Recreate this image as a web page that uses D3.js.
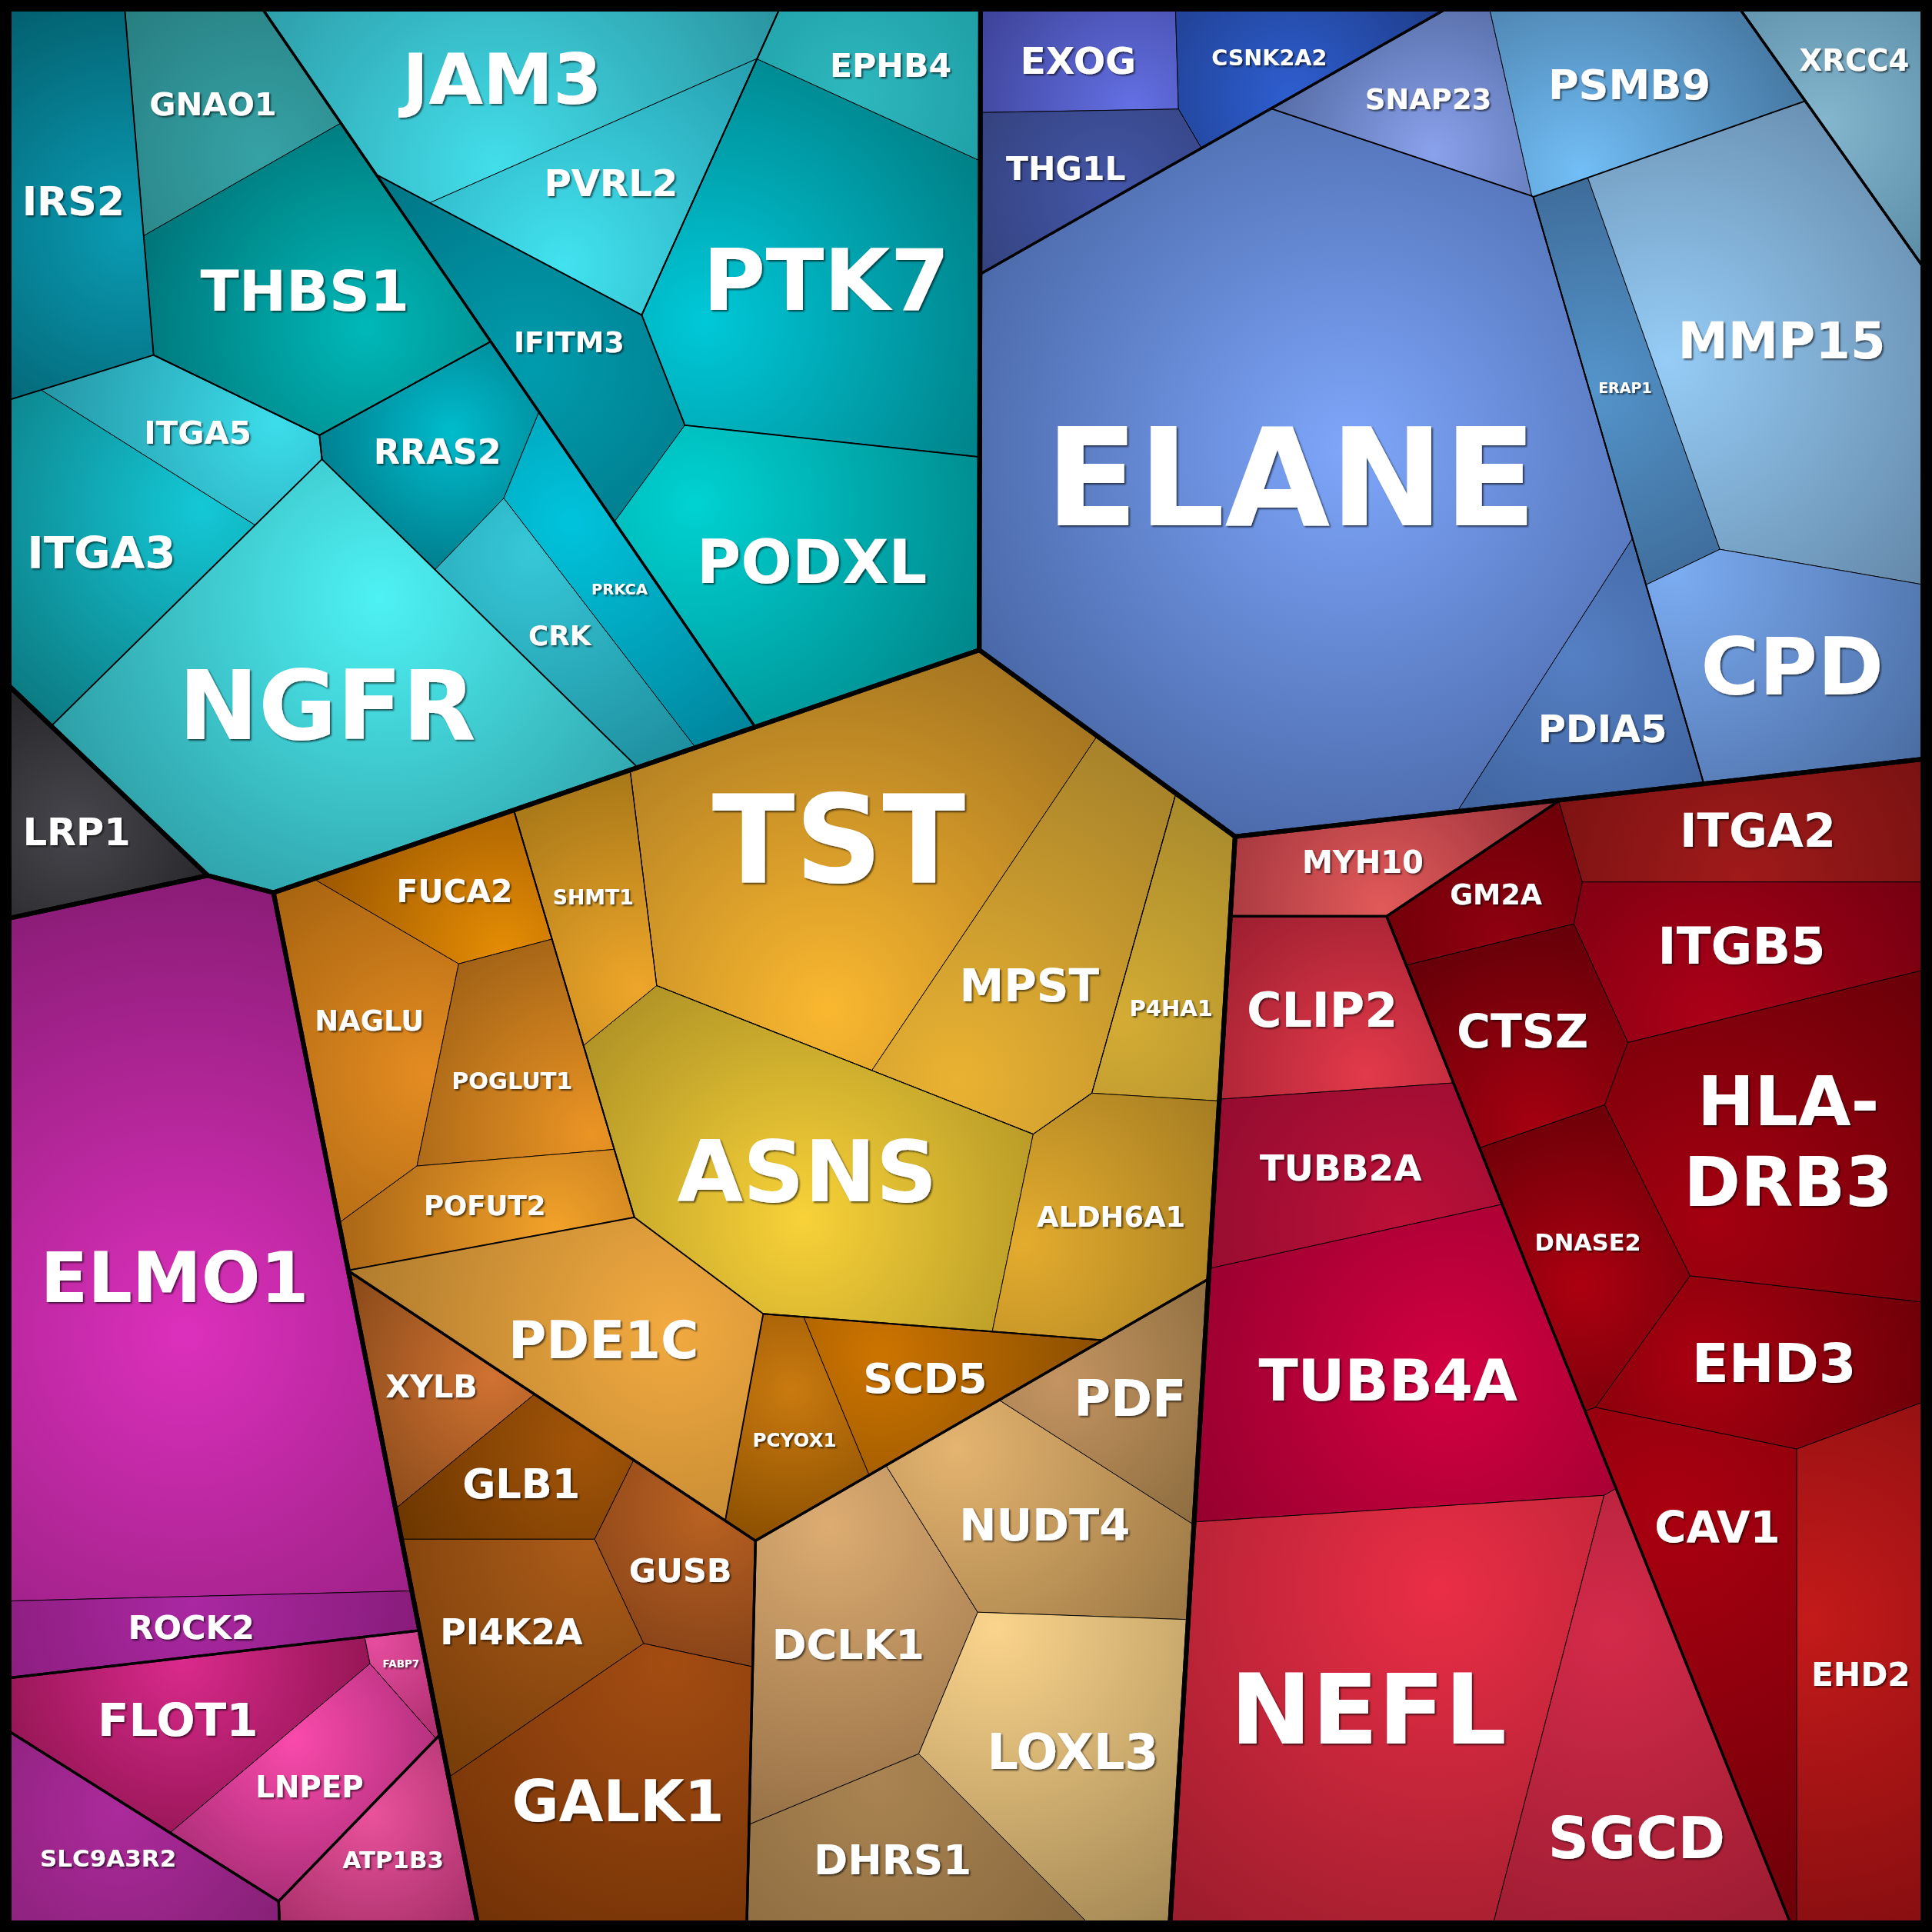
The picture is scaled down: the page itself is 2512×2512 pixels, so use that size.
<!DOCTYPE html>
<html><head><meta charset="utf-8">
<script src="https://cdn.jsdelivr.net/npm/d3@7"></script>
<style>html,body{margin:0;padding:0;background:#000;}svg{display:block;}</style>
</head><body>
<svg id="chart" width="2512" height="2512"></svg>
<script>
// ================= DATA =================
const genes = ["IRS2","GNAO1","THBS1","ITGA5","ITGA3","NGFR","RRAS2","CRK","PRKCA",
 "JAM3","EPHB4","PVRL2","PTK7","IFITM3","PODXL",
 "LRP1",
 "ELMO1","ROCK2","FLOT1","FABP7","LNPEP","SLC9A3R2","ATP1B3",
 "TST","MPST","P4HA1","ASNS","ALDH6A1","SHMT1",
 "FUCA2","NAGLU","POGLUT1","POFUT2",
 "PDE1C","SCD5","PCYOX1",
 "XYLB","GLB1","GUSB","PI4K2A","GALK1",
 "DCLK1","NUDT4","PDF","LOXL3","DHRS1",
 "EXOG","CSNK2A2","THG1L",
 "XRCC4",
 "SNAP23","PSMB9","ELANE","ERAP1","MMP15","CPD","PDIA5",
 "MYH10","CLIP2","TUBB2A","TUBB4A","NEFL","SGCD",
 "ITGA2","GM2A","ITGB5","CTSZ","HLA-DRB3","DNASE2","EHD3","CAV1","EHD2"];

const geneValues = [31.6,20.5,42.5,14.6,30.6,86.3,17.9,15.2,15.9,
 38.9,14.4,22.1,65.6,23.2,51.8,
 15.1,
 153.8,15.6,25.1,2.6,17.9,18.8,13.4,
 77.7,38.5,18.1,66.0,28.4,15.6,
 13.1,24.7,19.8,14.5,
 40.0,15.0,12.6,
 12.6,14.2,14.2,23.9,44.4,
 35.9,28.4,16.3,40.5,24.3,
 13.1,13.0,14.3,
 15.4,
 16.2,25.7,235.4,18.2,72.9,33.8,20.5,
 14.4,22.5,25.6,65.4,99.0,43.7,
 23.8,11.0,27.5,20.9,52.4,22.3,26.4,34.4,41.1];

const geneGroup = [
 "Teal-1","Teal-1c","Teal-1c","Teal-1a","Teal-1a","Teal-1","Teal-1b","Teal-1b","Teal-1b",
 "Teal-2a","Teal-2b","Teal-2a","Teal-2b","Teal-2","Teal-2",
 "Grey",
 "Magenta-1","Magenta-1","Magenta-2","Magenta-2","Magenta-2","Magenta-3","Magenta-4",
 "Gold-1a-i","Gold-1a-i","Gold-1a","Gold-1a","Gold-1a","Gold-1a",
 "Gold-1b","Gold-1b","Gold-1b","Gold-1b",
 "Gold-1","Gold-1c","Gold-1c",
 "Gold-2","Gold-2","Gold-2","Gold-2","Gold-2",
 "Gold-3","Gold-3","Gold-3","Gold-3","Gold-3",
 "Blue-1","Blue-1","Blue-1",
 "Blue-2",
 "Blue-3","Blue-3","Blue-3a","Blue-3b","Blue-3b","Blue-3b","Blue-3a",
 "Red-3","Red-1","Red-1","Red-1","Red-1","Red-1",
 "Red-2","Red-2","Red-2","Red-2","Red-2","Red-2","Red-2","Red-2","Red-2"];

const groupIds = ["all","Teal","Teal-1","Teal-1a","Teal-1b","Teal-1c","Teal-2","Teal-2a","Teal-2b",
 "Grey","Magenta","Magenta-1","Magenta-2","Magenta-3","Magenta-4",
 "Gold","Gold-1","Gold-1a","Gold-1a-i","Gold-1b","Gold-1c","Gold-2","Gold-3",
 "Blue","Blue-1","Blue-2","Blue-3","Blue-3a","Blue-3b",
 "Red","Red-1","Red-2","Red-3"];
const groupParents = ["","all","Teal","Teal-1","Teal-1","Teal-1","Teal","Teal-2","Teal-2",
 "all","all","Magenta","Magenta","Magenta","Magenta",
 "all","Gold","Gold-1","Gold-1a","Gold-1","Gold-1","Gold","Gold",
 "all","Blue","Blue","Blue","Blue-3","Blue-3",
 "all","Red","Red","Red"];

// ============ LAYOUT SEEDS (generator sites, fraction of canvas) ============
const seedX = [.026,.108,.168,.112,.064,.139,.223,.278,.304,
 .261,.459,.287,.406,.261,.372,
 .040,
 .100,.105,.096,.196,.129,.087,.191,
 .425,.517,.612,.415,.603,.311,
 .239,.198,.261,.268,
 .325,.478,.408,
 .226,.268,.351,.268,.325,
 .440,.552,.593,.548,.485,
 .554,.657,.555,
 .964,
 .762,.855,.670,.842,.932,.904,.829,
 .702,.692,.698,.721,.733,.845,
 .906,.775,.906,.794,.931,.829,.918,.893,.963];
const seedY = [.108,.048,.153,.230,.306,.322,.239,.292,.272,
 .048,.035,.107,.151,.142,.223,
 .427,
 .642,.841,.893,.873,.932,.964,.960,
 .442,.504,.491,.599,.638,.472,
 .472,.542,.555,.638,
 .702,.711,.740,
 .724,.775,.816,.855,.938,
 .861,.791,.727,.906,.969,
 .032,.029,.089,
 .049,
 .050,.029,.255,.191,.159,.320,.357,
 .450,.517,.603,.708,.893,.922,
 .421,.459,.485,.536,.587,.638,.702,.823,.823];
// group generator sites (null = value-weighted mean of members)
const groupSeedX = [null,.248,.147,.071,.222,.146,.370,.306,.386,
 .040,.108,null,.128,null,null,
 .411,.413,.462,.473,.300,null,.297,.517,
 .756,null,null,.695,.689,.916,
 .812,.702,.899,null];
const groupSeedY = [null,.209,.268,.253,.237,.098,.115,.057,.093,
 .427,.743,null,.899,null,null,
 .683,.683,.519,.452,.567,null,.858,.863,
 .210,null,null,.240,.268,.202,
 .707,.823,.744,null];

// ================= STYLES =================
const shade = {
 IRS2:["#035F6E","#0A9CB4"], GNAO1:["#277E80","#36A2A6"], THBS1:["#007478","#00B8B8"],
 ITGA5:["#2596A6","#3CDDEB"], ITGA3:["#0C7A82","#14C8D6"], NGFR:["#2E9EA6","#4EF2F4"],
 RRAS2:["#007E8E","#00BCCC"], CRK:["#1E8E9E","#36C8D8"], PRKCA:["#00849C","#00C4DC"],
 JAM3:["#2A94A0","#42DEEA"], EPHB4:["#1F9EA6","#2EB8BE"], PVRL2:["#269EAE","#42E2F0"],
 PTK7:["#007F86","#00C8D8"], IFITM3:["#007484","#009CAE"], PODXL:["#00868A","#00D2D2"],
 EXOG:["#3C4296","#6470E4"], CSNK2A2:["#1E3C88","#2E5ED0"], THG1L:["#34427E","#4456A8"],
 SNAP23:["#566CA6","#8AA2EC"], ELANE:["#4A68A8","#7EA6FA"], PSMB9:["#4678A2","#72BEF6"],
 XRCC4:["#5A8CA6","#84B6CE"], MMP15:["#6488A8","#96CCF6"], ERAP1:["#3E6C9A","#5494CA"],
 CPD:["#4A6CA2","#7CACF2"], PDIA5:["#3F639E","#5580C4"],
 TST:["#A47420","#FAB830"], MPST:["#A6822A","#EAB232"], P4HA1:["#A88A2C","#D4AC34"],
 ALDH6A1:["#A47C22","#E4AC2E"], ASNS:["#B09426","#F8D238"], SHMT1:["#A87818","#EEA62A"],
 FUCA2:["#9A5600","#E48C04"], NAGLU:["#A86410","#E48C22"], POGLUT1:["#A26216","#EA9424"],
 POFUT2:["#AA6616","#F2A22A"], PDE1C:["#B07C2E","#F2AA40"], SCD5:["#8A4E00","#CC7400"],
 PCYOX1:["#8C5000","#CA7A10"], XYLB:["#864818","#D07232"], GLB1:["#6C3600","#A25408"],
 GUSB:["#864218","#BA6222"], PI4K2A:["#763C08","#AC5C1A"], GALK1:["#723206","#A44C12"],
 DCLK1:["#967046","#DCAC72"], NUDT4:["#9C7844","#E4B470"], PDF:["#8C6C3E","#C49462"],
 LOXL3:["#A48854","#FAD48C"], DHRS1:["#88683E","#AA8452"],
 MYH10:["#963038","#E25A5A"], CLIP2:["#9C1E30","#E23A4A"], TUBB2A:["#940C30","#BC1038"],
 TUBB4A:["#94002E","#D40042"], NEFL:["#9A1C2C","#EA2E46"], SGCD:["#9A1C30","#D42A4A"],
 ITGA2:["#7A1212","#A01A1A"], GM2A:["#6C0008","#900010"], ITGB5:["#740010","#AC0018"],
 CTSZ:["#640008","#A40010"], "HLA-DRB3":["#680008","#A40010"], DNASE2:["#6C0008","#AC0010"],
 EHD3:["#6E0008","#AA0010"], CAV1:["#6C0008","#AA0010"], EHD2:["#880E10","#C41A1A"],
 ELMO1:["#8A1C76","#DC30BC"], ROCK2:["#881C7A","#AA28A2"], FLOT1:["#961656","#DA2A8C"],
 FABP7:["#AC2E6E","#E64C9E"], LNPEP:["#AC2E78","#FA4AAC"], SLC9A3R2:["#862076","#AC2A9C"],
 ATP1B3:["#A42E66","#EA529C"], LRP1:["#262629","#46464C"]
};
const borderByDepth = {1: 6, 2: 3.3, 3: 1.9, 4: 1.2};
const leafBorder = 0.9;

// ================= BUILD HIERARCHY =================
const W = 2512, H = 2512, M = 12;
const rows = groupIds.map((id, i) => ({id, parent: groupParents[i] || null,
    gseed: groupSeedX[i] != null ? [groupSeedX[i] * W, groupSeedY[i] * H] : null}))
  .concat(genes.map((g, i) => ({id: g, parent: geneGroup[i], value: geneValues[i], seed: [seedX[i] * W, seedY[i] * H]})));
const root = d3.stratify().id(d => d.id).parentId(d => d.parent)(rows);
root.sum(d => d.value || 0);
root.eachAfter(n => {
  if (n.children) {
    const tot = d3.sum(n.children, c => c.value);
    const auto = [d3.sum(n.children, c => c.seed[0] * c.value) / tot, d3.sum(n.children, c => c.seed[1] * c.value) / tot];
    n.seed = n.data.gseed ? n.data.gseed : auto;
  } else n.seed = n.data.seed.slice();
});

// ================= POWER DIAGRAM (weighted Voronoi) =================
function clipHalfPlane(poly, ax, ay, b) {
  const out = [], n = poly.length;
  for (let i = 0; i < n; i++) {
    const P = poly[i], Q = poly[(i + 1) % n];
    const dp = ax * P[0] + ay * P[1] - b, dq = ax * Q[0] + ay * Q[1] - b;
    if (dp <= 0) out.push(P);
    if ((dp <= 0) !== (dq <= 0)) {
      const t = dp / (dp - dq);
      out.push([P[0] + t * (Q[0] - P[0]), P[1] + t * (Q[1] - P[1])]);
    }
  }
  return out;
}
function cellOf(sites, i, clip) {
  const s = sites[i];
  let poly = clip.slice();
  for (let j = 0; j < sites.length && poly.length >= 3; j++) {
    if (j === i) continue;
    const t = sites[j];
    const b = ((t.x * t.x + t.y * t.y) - (s.x * s.x + s.y * s.y) - t.w + s.w) / 2;
    poly = clipHalfPlane(poly, t.x - s.x, t.y - s.y, b);
  }
  return poly.length >= 3 ? poly : [];
}
const areaOf = p => p.length >= 3 ? Math.abs(d3.polygonArea(p)) : 0;

function solveWeights(sites, clip, A, maxIt, tol) {
  const n = sites.length, h = A * 1e-5 + 1, cap = 0.3 * A / n;
  let err = Infinity;
  for (let it = 0; it < maxIt; it++) {
    const areas = sites.map((s, i) => areaOf(cellOf(sites, i, clip)));
    err = d3.max(sites, (s, i) => Math.abs(areas[i] - s.target) / s.target);
    if (err < tol) break;
    const dw = sites.map((s, i) => {
      if (areas[i] <= 0) {
        let need = -Infinity;
        sites.forEach((t, j) => { if (j !== i) need = Math.max(need, t.w - ((t.x - s.x) ** 2 + (t.y - s.y) ** 2)); });
        return Math.max(need - s.w, 0) + 0.02 * A / n;
      }
      const w0 = s.w; s.w = w0 + h;
      const a2 = areaOf(cellOf(sites, i, clip));
      s.w = w0;
      const D = (a2 - areas[i]) / h;
      if (D <= 1e-12) return (s.target > areas[i] ? 1 : -1) * 0.02 * A / n;
      return Math.max(-cap, Math.min(cap, 0.6 * (s.target - areas[i]) / D));
    });
    sites.forEach((s, i) => s.w += dw[i]);
  }
  return err;
}
function layoutChildren(node) {
  if (!node.children || !node.polygon || node.polygon.length < 3) return;
  const clip = node.polygon, kids = node.children;
  if (kids.length === 1) { kids[0].polygon = clip; layoutChildren(kids[0]); return; }
  const A = areaOf(clip);
  const sumV = d3.sum(kids, k => k.value);
  const sites = kids.map(k => ({x: k.seed[0], y: k.seed[1], w: 0, target: k.value / sumV * A}));
  const cc = d3.polygonCentroid(clip);
  sites.forEach(s => {
    let t = 1;
    while (!d3.polygonContains(clip, [s.x, s.y]) && t > 0.05) {
      s.x = cc[0] + (s.x - cc[0]) * 0.9; s.y = cc[1] + (s.y - cc[1]) * 0.9; t *= 0.9;
    }
  });
  solveWeights(sites, clip, A, 1500, 0.0008);
  kids.forEach((k, i) => { k.polygon = cellOf(sites, i, clip); layoutChildren(k); });
}
root.polygon = [[M, M], [W - M, M], [W - M, H - M], [M, H - M]];
layoutChildren(root);

// ================= DRAW =================
const svg = d3.select("#chart");
svg.append("rect").attr("width", W).attr("height", H).attr("fill", "#000");
const defs = svg.append("defs");
const filt = defs.append("filter").attr("id", "tshadow").attr("x", "-10%").attr("y", "-10%").attr("width", "120%").attr("height", "130%");
filt.append("feDropShadow").attr("dx", 2).attr("dy", 2).attr("stdDeviation", 0.8).attr("flood-color", "#000").attr("flood-opacity", 0.6);
const leaves = root.leaves().filter(l => l.polygon && l.polygon.length >= 3);
const line = d3.line();
const pathOf = p => line(p) + "Z";

leaves.forEach((l, i) => {
  const c = d3.polygonCentroid(l.polygon);
  const top = l.ancestors().find(a => a.depth === 1);
  const P = d3.polygonCentroid(top.polygon);
  let t = 0.35, g = [c[0] + t * (P[0] - c[0]), c[1] + t * (P[1] - c[1])];
  while (!d3.polygonContains(l.polygon, g) && t > 0.01) { t *= 0.8; g = [c[0] + t * (P[0] - c[0]), c[1] + t * (P[1] - c[1])]; }
  const r = d3.max(l.polygon, p => Math.hypot(p[0] - g[0], p[1] - g[1]));
  const col = shade[l.id] || ["#555", "#999"];
  const gr = defs.append("radialGradient").attr("id", "g" + i).attr("gradientUnits", "userSpaceOnUse")
    .attr("cx", g[0]).attr("cy", g[1]).attr("r", r).attr("fx", g[0]).attr("fy", g[1]);
  gr.append("stop").attr("offset", 0).attr("stop-color", col[1]);
  gr.append("stop").attr("offset", 1).attr("stop-color", col[0]);
  l.gid = "g" + i;
});

svg.append("g").selectAll("path").data(leaves).join("path")
  .attr("d", d => pathOf(d.polygon)).attr("fill", d => `url(#${d.gid})`)
  .attr("stroke", "#000").attr("stroke-width", leafBorder).attr("stroke-linejoin", "round");

[4, 3, 2, 1].forEach(dep => {
  const nodes = root.descendants().filter(n => n.depth === dep && n.children && n.polygon && n.polygon.length >= 3);
  svg.append("g").selectAll("path").data(nodes).join("path")
    .attr("d", d => pathOf(d.polygon)).attr("fill", "none")
    .attr("stroke", "#000").attr("stroke-width", borderByDepth[dep]).attr("stroke-linejoin", "round");
});

// ================= LABELS =================
const mctx = document.createElement("canvas").getContext("2d");
mctx.font = "bold 100px 'DejaVu Sans'";
const textW = s => mctx.measureText(s).width / 100;
function placeLabel(l) {
  const poly = l.polygon, area = areaOf(poly);
  const k = l.id.indexOf("-");
  const lines = (k > 0 && l.id.length > 6) ? [l.id.slice(0, k + 1), l.id.slice(k + 1)] : [l.id];
  const wEm = d3.max(lines, textW), capH = 0.73, lineH = 1.18;
  const hEm = capH + (lines.length - 1) * lineH;
  const target = 0.82 * Math.sqrt(area) / wEm / (lines.length > 1 ? 1.1 : 1);
  const c = d3.polygonCentroid(poly);
  const [x0, x1] = d3.extent(poly, p => p[0]), [y0, y1] = d3.extent(poly, p => p[1]);
  const cands = [c], N = 28;
  for (let i = 0; i < N; i++) for (let j = 0; j < N; j++) cands.push([x0 + (x1 - x0) * (i + 0.5) / N, y0 + (y1 - y0) * (j + 0.5) / N]);
  const fits = (p, f) => {
    const hw = wEm * f * 0.5 * 1.22 + 2, hh = hEm * f * 0.5 * 1.1 + 2;
    return [[p[0] - hw, p[1] - hh], [p[0] + hw, p[1] - hh], [p[0] + hw, p[1] + hh], [p[0] - hw, p[1] + hh]].every(q => d3.polygonContains(poly, q));
  };
  const res = [];
  cands.forEach(p => {
    if (!d3.polygonContains(poly, p)) return;
    let lo = 0, hi = target;
    if (fits(p, hi)) lo = hi; else for (let s = 0; s < 16; s++) { const mid = (lo + hi) / 2; if (fits(p, mid)) lo = mid; else hi = mid; }
    res.push({p, f: lo, d: Math.hypot(p[0] - c[0], p[1] - c[1])});
  });
  const maxF = d3.max(res, r => r.f) || 10;
  const pick = res.filter(r => r.f >= maxF * 0.86).sort((a, b) => a.d - b.d)[0] || {p: c, f: 10};
  return {x: pick.p[0], y: pick.p[1], f: Math.max(pick.f, 9), lines, hEm, capH, lineH};
}
const labG = svg.append("g").attr("font-family", "'DejaVu Sans', sans-serif").attr("font-weight", "bold")
  .attr("text-anchor", "middle").attr("fill", "#fff").attr("filter", "url(#tshadow)");
leaves.forEach(l => {
  const L = placeLabel(l);
  const yTop = L.y - L.hEm * L.f / 2;
  const tx = labG.append("text").attr("font-size", L.f);
  L.lines.forEach((s, i) => {
    tx.append("tspan").attr("x", L.x).attr("y", yTop + L.capH * L.f + i * L.lineH * L.f).text(s);
  });
});
</script>
</body></html>
